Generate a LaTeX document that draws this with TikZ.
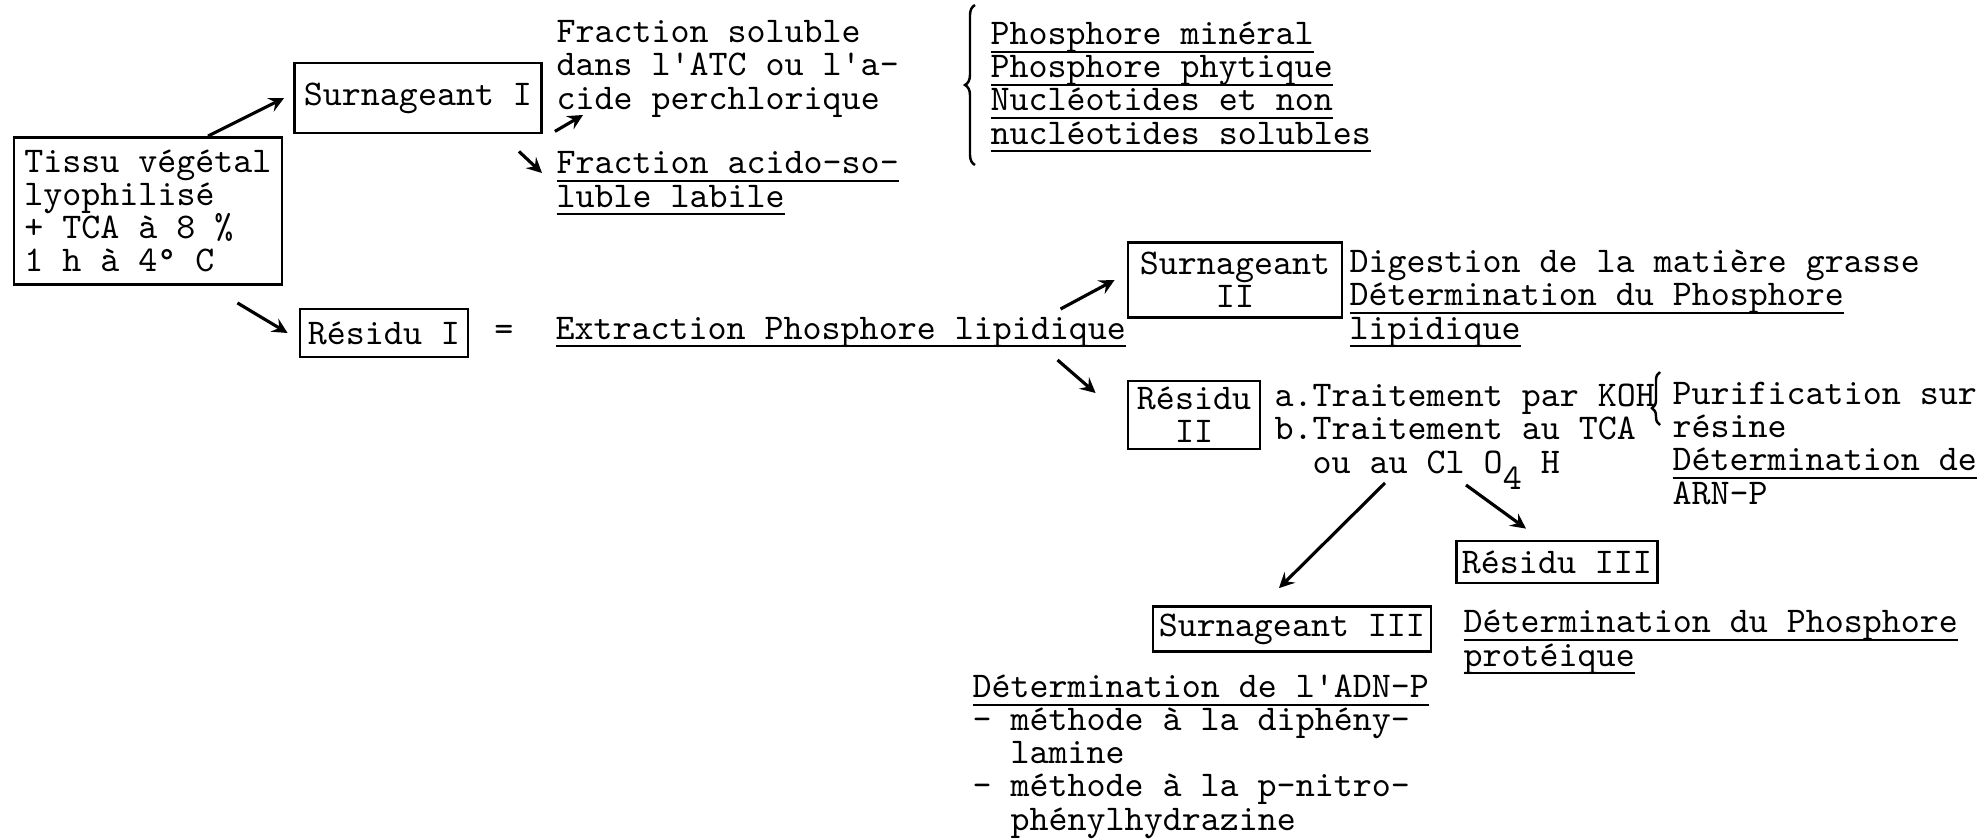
\documentclass[tikz,border=0pt]{standalone}
\usepackage{tikz}
\usetikzlibrary{decorations.pathreplacing}

\newcommand{\souligne}[1]{\setbox0=\hbox{#1}\rlap{\rule[-2.4pt]{\wd0}{0.7pt}}\box0}
\newcommand{\bas}[1]{\raisebox{-1.6mm}{#1}}

\begin{document}
\begin{tikzpicture}[x=0.1mm, y=-0.1mm,
        font=\fontsize{10.3}{9.4}\selectfont\ttfamily,
        every node/.style={execute at begin node={\lineskiplimit=-20pt}},
        boite/.style={draw, rectangle, line width=0.8pt, inner sep=0pt, align=center},
        texte/.style={anchor=base west, inner sep=0pt, align=left},
        arr/.style={->, >=stealth, line width=0.9pt}]
        \useasboundingbox (0,0) rectangle (1980,839);

        % multi-line texts: placed at the baseline of their last line
        \node (tissu) [boite, minimum width=26.8mm, minimum height=14.7mm, align=left] at (148,211) {Tissu végétal\\lyophilisé\\+ TCA à 8 \%\\1 h à 4° C};
        \node (si) [boite, minimum width=24.7mm, minimum height=7mm] at (418,98) {Surnageant I};
        \node (fsol) [texte] at (556,109) {Fraction soluble\\dans l'ATC ou l'a-\\cide perchlorique};
        \node (facid) [texte] at (556,207) {\souligne{Fraction acido-so-}\\\souligne{luble labile}};
        \node (phos) [texte] at (990,144) {\souligne{Phosphore minéral}\\\souligne{Phosphore phytique}\\\souligne{Nucléotides et non}\\\souligne{nucléotides solubles}};
        \draw[decorate, decoration={brace, amplitude=1mm}, line width=0.7pt] ([xshift=-1.5mm,yshift=-2.1mm]phos.base west) -- ([xshift=-1.5mm,yshift=13.9mm]phos.base west);

        \node (res1) [boite, minimum width=16.8mm, minimum height=4.8mm] at (384,333) {Résidu I};
        \node (egal) [right of=res1, node distance=12mm] {=};
        \node (extr) [texte] at (555,339) {\souligne{Extraction Phosphore lipidique}};

        \node (s2) [boite, minimum width=21.4mm, minimum height=7.5mm] at (1235,280) {Surnageant\\II};
        \node (dig) [texte] at (1349,339) {Digestion de la matière grasse\\\souligne{Détermination du Phosphore}\\\souligne{lipidique}};
        \node (r2) [boite, minimum width=13.2mm, minimum height=6.8mm] at (1194,415) {Résidu\\II};
        \node (trt) [texte] at (1274,473) {a.Traitement par KOH\\b.Traitement au TCA\\\phantom{b.}ou au Cl O\bas{4} H};
        \node (puri) [texte] at (1672,504) {Purification sur\\résine\\\souligne{Détermination de}\\ARN-P};
        \draw[decorate, decoration={brace, amplitude=0.8mm, aspect=0.32}, line width=0.7pt] ([xshift=-1.2mm,yshift=7.9mm]puri.base west) -- ([xshift=-1.2mm,yshift=13.2mm]puri.base west);

        \node (r3) [boite, minimum width=20.1mm, minimum height=4.2mm] at (1557,562) {Résidu III};
        \node (s3) [boite, minimum width=27.8mm, minimum height=4.5mm] at (1292,629) {Surnageant III};
        \node (prot) [texte] at (1463,666) {\souligne{Détermination du Phosphore}\\\souligne{protéique}};
        \node (adn) [texte] at (972,830) {\souligne{Détermination de l'ADN-P}\\- méthode à la diphény-\\\phantom{- }lamine\\- méthode à la p-nitro-\\\phantom{- }phénylhydrazine};

        \draw[arr] ([xshift=6mm]tissu.north) -- ([xshift=-0.9mm]si.west);
        \draw[arr] ([xshift=1.2mm,yshift=0.3mm]si.south east) -- ([xshift=2.7mm,yshift=-0.6mm]fsol.base west);
        \draw[arr] ([xshift=-2.4mm,yshift=-1.7mm]si.south east) -- ([xshift=-1.4mm,yshift=3.4mm]facid.base west);
        \draw[arr] ([xshift=-4.6mm,yshift=-1.7mm]tissu.south east) -- ([xshift=-1.1mm]res1.west);
        \draw[arr] ([xshift=-6.6mm,yshift=3mm]extr.base east) -- ([xshift=-1.2mm]s2.west);
        \draw[arr] ([xshift=-6.9mm,yshift=-2.1mm]extr.base east) -- ([xshift=-3.1mm,yshift=2.2mm]r2.west);
        \draw[arr] ([xshift=11.1mm,yshift=-1mm]trt.base west) -- ([xshift=-1.3mm,yshift=1.7mm]s3.north);
        \draw[arr] ([xshift=19.2mm,yshift=-1.2mm]trt.base west) -- ([xshift=-3.1mm,yshift=1.1mm]r3.north);
\end{tikzpicture}
\end{document}
